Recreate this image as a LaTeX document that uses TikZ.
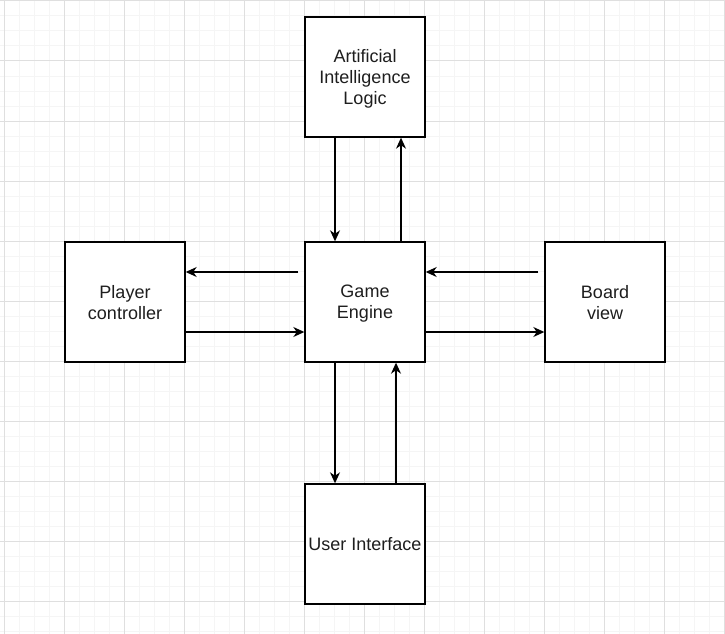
\documentclass[tikz,border=0pt]{standalone}
\usepackage{fontspec}
\setmainfont{Liberation Sans}
\usepackage{tikz}
\usetikzlibrary{arrows.meta}
\definecolor{gridmajor}{HTML}{DFDFDF}
\definecolor{gridminor}{HTML}{F5F5F5}
\definecolor{ink}{HTML}{1E1E1E}
\tikzset{
  box/.style={draw, rectangle, line width=1.4pt, fill=white, minimum width=120pt, minimum height=120pt, align=center, inner sep=2pt, text depth=0pt, text=ink, font=\fontsize{18}{21}\selectfont},
  arr/.style={-{Stealth[length=11pt, width=10pt, inset=3.5pt]}, line width=1.3pt},
  minorline/.style={gridminor, line width=1pt},
  majorline/.style={gridmajor, line width=1pt}
}

\begin{document}
\begin{tikzpicture}[x=1pt, y=-1pt]
\useasboundingbox (0,0) rectangle (725,634);
\fill[white] (0,0) rectangle (725,634);
% background grid
\foreach \x in {4,19,...,724} \draw[minorline] (\x,0) -- (\x,634);
\foreach \y in {1,16,...,631} \draw[minorline] (0,\y) -- (725,\y);
\foreach \x in {4,64,...,724} \draw[majorline] (\x,0) -- (\x,634);
\foreach \y in {1,61,...,631} \draw[majorline] (0,\y) -- (725,\y);

\node[box] (ai) at (365,77) {Artificial\\Intelligence\\Logic};
\node[box] (player) at (125,302) {Player\\controller};
\node[box] (engine) at (365,302) {Game\\Engine};
\node[box] (board) at (605,302) {Board\\view};
\node[box] (ui) at (365,544) {User Interface};

\draw[arr] ([xshift=-30pt]ai.south) -- ([xshift=-30pt]engine.north);
\draw[arr] ([xshift=36pt]engine.north) -- ([xshift=36pt]ai.south);
\draw[arr, shorten <=6pt] ([yshift=30pt]engine.west) -- ([yshift=30pt]player.east);
\draw[arr] ([yshift=-30pt]player.east) -- ([yshift=-30pt]engine.west);
\draw[arr, shorten <=6pt] ([yshift=30pt]board.west) -- ([yshift=30pt]engine.east);
\draw[arr] ([yshift=-30pt]engine.east) -- ([yshift=-30pt]board.west);
\draw[arr] ([xshift=-30pt]engine.south) -- ([xshift=-30pt]ui.north);
\draw[arr] ([xshift=31pt]ui.north) -- ([xshift=31pt]engine.south);
\end{tikzpicture}
\end{document}
